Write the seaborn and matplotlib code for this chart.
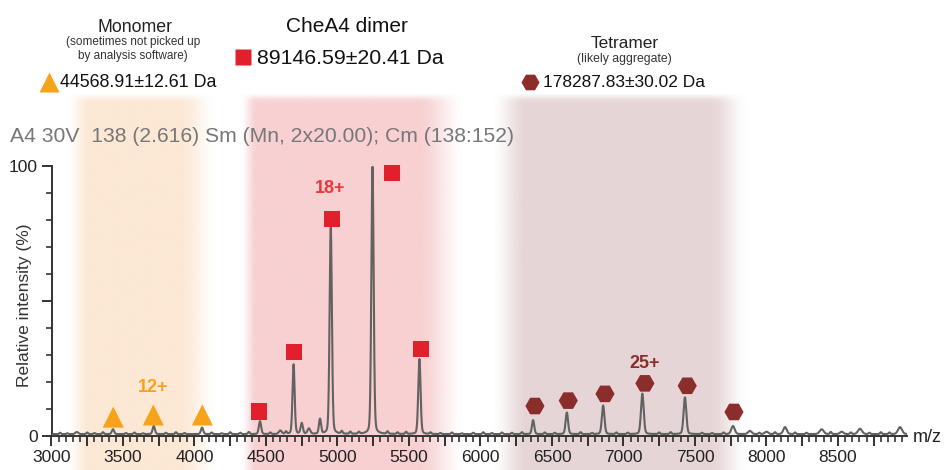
import numpy as np
import pandas as pd
import matplotlib
matplotlib.use("Agg")
import matplotlib.pyplot as plt
from matplotlib.lines import Line2D
from matplotlib.colors import to_rgb
from matplotlib.ticker import MultipleLocator, FixedLocator, FuncFormatter
import seaborn as sns

# peaks: m/z, relative intensity (%), width (sigma, m/z)
peak_mz = [3177, 3430, 3715, 4053, 4458, 4600, 4693, 4750, 4800, 4878, 4953, 5245, 5573,
           6368, 6604, 6858, 7132, 7430, 7766, 7884, 8000, 8130, 8386, 8526, 8654, 8934]
peak_int = [0.8, 1.8, 3.0, 2.4, 4.8, 1.3, 25.8, 4.0, 2.0, 5.5, 76.5, 99.0, 27.8,
            5.2, 8.0, 10.6, 15.0, 13.6, 3.0, 1.2, 0.9, 2.6, 1.8, 0.9, 2.0, 2.6]
peak_width = [10, 8, 8, 8, 8, 10, 7.5, 8, 10, 7.5, 8, 8, 8,
              8, 8.5, 9, 9.5, 9.5, 12, 12, 12, 12, 14, 12, 14, 14]

# small baseline wiggles
noise_mz = [3060, 3110, 3250, 3300, 3360, 3520, 3580, 3640, 3800, 3870, 3930, 4120, 4190,
            4250, 4320, 4380, 4530, 4640, 5030, 5090, 5150, 5350, 5420, 5480, 5650, 5720,
            5800, 5870, 5950, 6020, 6080, 6150, 6220, 6290, 6450, 6520, 6700, 6780, 6950,
            7030, 7250, 7330, 7550, 7620, 7700, 7950, 8060, 8200, 8280, 8450, 8590, 8720,
            8800, 8860]
noise_int = [0.5, 0.3, 0.6, 0.4, 0.7, 0.4, 0.6, 0.3, 0.5, 0.7, 0.4, 0.6, 0.3,
             0.7, 0.5, 0.8, 0.6, 0.9, 1.0, 0.8, 0.7, 0.9, 0.6, 0.8, 0.6, 0.4,
             0.6, 0.3, 0.5, 0.7, 0.4, 0.6, 0.5, 0.7, 0.6, 0.5, 0.7, 0.4, 0.6,
             0.5, 0.6, 0.7, 0.5, 0.4, 0.6, 0.5, 0.7, 0.6, 0.5, 0.8, 0.6, 0.5,
             0.7, 0.6]

# assigned charge-state markers
mono_mz = [3432, 3712, 4055]
mono_y = [7.0, 7.8, 7.8]
dimer_mz = [4451, 4696, 4962, 5381, 5584]
dimer_y = [9.0, 31.1, 80.4, 97.5, 32.2]
tetra_mz = [6381, 6614, 6871, 7150, 7446, 7773]
tetra_y = [11.1, 13.1, 15.6, 19.5, 18.6, 8.9]

# shaded species regions (fade-in start, full, full end, fade-out end)
band_edges = [(3100, 3280, 3900, 4160), (4320, 4440, 5560, 5900), (6080, 6330, 7600, 7880)]
band_colors = ["#fce8d4", "#f8d0d2", "#e6d5d6"]

ORANGE = "#f7a21b"
RED = "#e2202b"
BROWN = "#8b2d2a"

W, H = 949, 470
XMIN, XMAX = 3000, 8983


def fx(px):
    return px / W


def fy(py):
    return 1 - py / H


sns.set_style("ticks")
plt.rcParams["font.family"] = ["Liberation Sans", "DejaVu Sans"]

# build the trace from the peak list
mz = np.arange(XMIN, XMAX, 1.0)
inten = np.full_like(mz, 0.7)
for c, h, s in zip(peak_mz + noise_mz, peak_int + noise_int, peak_width + [6] * len(noise_mz)):
    g = np.exp(-0.5 * ((mz - c) / s) ** 2)
    lor = 1 / (1 + ((mz - c) / (1.1774 * s)) ** 2)
    inten += h * (0.8 * g + 0.2 * lor)
spec = pd.DataFrame({"mz": mz, "intensity": inten})

fig = plt.figure(figsize=(W / 100, H / 100), dpi=100)
ax = fig.add_axes([fx(51.5), 34 / H, (907 - 51.5) / W, 270 / H])

# background bands
xs = np.linspace(XMIN, XMAX, 1500)
nrows = 200
rgba = np.ones((nrows, len(xs), 4))
rgba[..., 3] = 0
for (a0, a1, b0, b1), col in zip(band_edges, band_colors):
    ramp = np.clip(np.minimum((xs - a0) / (a1 - a0), (b1 - xs) / (b1 - b0)), 0, 1)
    ramp = ramp * ramp * (3 - 2 * ramp)
    m = ramp > 0
    rgba[:, m, :3] = to_rgb(col)
    rgba[:, m, 3] = ramp[m]
top_fade = np.ones(nrows)
top_fade[:5] = [0.2, 0.45, 0.7, 0.88, 0.96]
rgba[..., 3] *= top_fade[:, None]
ax.imshow(rgba, extent=[XMIN, XMAX, -12.6, 126.3], aspect="auto", zorder=0,
          clip_on=False, interpolation="bilinear")

sns.lineplot(data=spec, x="mz", y="intensity", ax=ax, color="#626262", lw=1.5,
             estimator=None, zorder=3)

sns.scatterplot(x=mono_mz, y=mono_y, ax=ax, marker="^", s=230, color=ORANGE,
                edgecolor="none", zorder=5, clip_on=False)
sns.scatterplot(x=dimer_mz, y=dimer_y, ax=ax, marker="s", s=140, color=RED,
                edgecolor="none", zorder=5, clip_on=False)
sns.scatterplot(x=tetra_mz, y=tetra_y, ax=ax, marker="H", s=190, color=BROWN,
                edgecolor="none", zorder=5, clip_on=False)

ax.text(3710, 17.8, "12+", color=ORANGE, fontsize=13, fontweight="bold", ha="center", va="center")
ax.text(4948, 91.5, "18+", color="#e8383a", fontsize=13, fontweight="bold", ha="center", va="center")
ax.text(7150, 26.7, "25+", color=BROWN, fontsize=13, fontweight="bold", ha="center", va="center")

ax.set_xlim(XMIN, XMAX)
ax.set_ylim(0, 100)
ax.set_xlabel("")
ax.set_ylabel("")
ax.patch.set_alpha(0)

ax.xaxis.set_major_locator(MultipleLocator(250))
ax.xaxis.set_minor_locator(MultipleLocator(50))
ax.xaxis.set_major_formatter(FuncFormatter(lambda v, p: f"{int(v)}" if v % 500 == 0 and v <= 8500 else ""))
ax.yaxis.set_major_locator(FixedLocator([0, 50, 100]))
ax.yaxis.set_minor_locator(MultipleLocator(10))
ax.yaxis.set_major_formatter(FuncFormatter(lambda v, p: "" if v == 50 else f"{int(v)}"))
ax.tick_params(which="major", length=7, width=1.3, labelsize=12.5, colors="#222222", pad=3)
ax.tick_params(which="minor", length=4, width=1.1, colors="#222222")
sns.despine(ax=ax)
for sp in ("left", "bottom"):
    ax.spines[sp].set_linewidth(1.4)
    ax.spines[sp].set_color("#333333")

fig.text(fx(25), fy(305), "Relative intensity (%)", rotation=90, ha="center", va="center",
         fontsize=12.5, color="#333333")
fig.text(fx(913), fy(442), "m/z", ha="left", va="baseline", fontsize=13, color="#222222")
fig.text(fx(10), fy(141.7), "A4 30V  138 (2.616) Sm (Mn, 2x20.00); Cm (138:152)",
         ha="left", va="baseline", fontsize=15.2, color="#777777")

# header annotations
fig.text(fx(135), fy(31.7), "Monomer", ha="center", va="baseline", fontsize=12.8, color="#222222")
fig.text(fx(133), fy(45), "(sometimes not picked up", ha="center", va="baseline", fontsize=8.5, color="#333333")
fig.text(fx(133), fy(59), "by analysis software)", ha="center", va="baseline", fontsize=8.5, color="#333333")
fig.text(fx(60), fy(87), "44568.91\u00b112.61 Da", ha="left", va="baseline", fontsize=12.9, color="#111111")
fig.add_artist(Line2D([fx(49)], [fy(82)], marker="^", markersize=15, color=ORANGE,
                      markeredgecolor="none", transform=fig.transFigure))

fig.text(fx(347), fy(31.7), "CheA4 dimer", ha="center", va="baseline", fontsize=15, color="#111111")
fig.text(fx(257), fy(64), "89146.59\u00b120.41 Da", ha="left", va="baseline", fontsize=15.3, color="#111111")
fig.add_artist(Line2D([fx(243)], [fy(57)], marker="s", markersize=11.5, color=RED,
                      markeredgecolor="none", transform=fig.transFigure))

fig.text(fx(625), fy(48.3), "Tetramer", ha="center", va="baseline", fontsize=12.4, color="#222222")
fig.text(fx(624), fy(62), "(likely aggregate)", ha="center", va="baseline", fontsize=8.8, color="#333333")
fig.text(fx(543), fy(87), "178287.83\u00b130.02 Da", ha="left", va="baseline", fontsize=12.5, color="#111111")
fig.add_artist(Line2D([fx(530)], [fy(82)], marker="H", markersize=13, color=BROWN,
                      markeredgecolor="none", transform=fig.transFigure))

fig.savefig("out.png", dpi=100)
